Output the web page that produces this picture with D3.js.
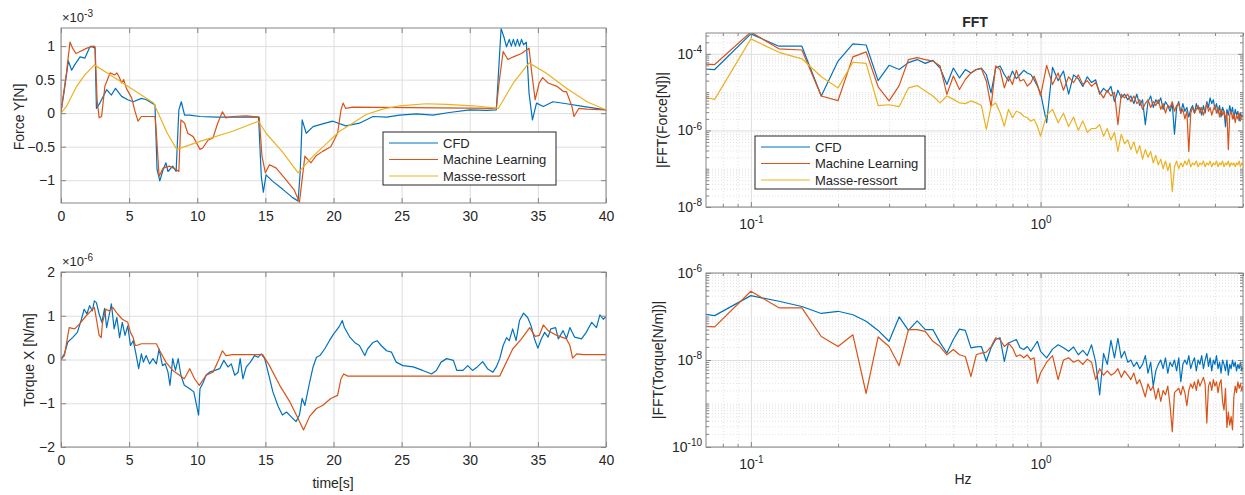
<!DOCTYPE html>
<html lang="fr">
<head>
<meta charset="UTF-8">
<title>Force / Torque - CFD vs ML vs Masse-ressort</title>
<script src="https://cdn.jsdelivr.net/npm/d3@7"></script>
<style>
  body { margin: 0; background: #fff; }
  svg text { font-family: "Liberation Sans", Arial, sans-serif; fill: #262626; }
</style>
</head>
<body>
<script>
// ---- data ----
const seriesNames = ["CFD", "Machine Learning", "Masse-ressort"];
const seriesColors = ["#0072BD", "#D95319", "#EDB120"];

const timeTicks = [0, 5, 10, 15, 20, 25, 30, 35, 40];
const forceTicks = [-1, -0.5, 0, 0.5, 1];
const torqueTicks = [-2, -1, 0, 1, 2];
const hzTicks = [0.1, 1];
const fftForceTicks = [1e-8, 1e-6, 1e-4];
const fftTorqueTicks = [1e-10, 1e-8, 1e-6];

// Force Y, x1e-3 N : [t, value]
const forceCfd = [[0,0.02],[0.25,0.35],[0.54,0.78],[0.78,0.64],[1.0,0.72],[1.4,0.84],[1.75,0.82],[2.1,0.98],[2.2,1.0],[2.5,0.97],[2.6,0.07],[2.85,0.15],[3.35,0.35],[3.7,0.27],[4.0,0.37],[4.45,0.25],[4.9,0.2],[5.3,0.17],[5.9,0.22],[6.27,0.2],[6.9,0.12],[7.05,-0.84],[7.25,-1.01],[7.5,-0.84],[7.7,-0.74],[7.85,-0.87],[8.2,-0.79],[8.45,-0.87],[8.65,0.05],[8.83,0.17],[9.07,-0.03],[9.45,-0.03],[10.2,-0.05],[11.4,-0.06],[12.6,-0.06],[14.5,-0.06],[14.7,-0.94],[14.85,-1.18],[15.05,-0.92],[15.5,-1.01],[16.3,-1.14],[17.0,-1.26],[17.4,-1.31],[17.55,-0.9],[17.7,-0.1],[18.0,-0.3],[18.5,-0.2],[19.2,-0.16],[19.95,-0.12],[20.9,-0.19],[21.9,-0.15],[22.9,-0.05],[23.9,-0.06],[24.85,-0.03],[26.1,-0.01],[27.3,-0.03],[28.5,0.01],[30.0,0.05],[31.2,0.04],[31.95,0.05],[32.3,1.26],[32.5,1.14],[32.7,0.99],[32.9,1.1],[33.05,1.0],[33.2,1.1],[33.35,1.0],[33.5,1.1],[33.65,1.0],[33.8,1.1],[33.95,1.02],[34.15,1.06],[34.35,0.3],[34.6,-0.1],[34.9,0.15],[35.4,0.1],[36.1,0.17],[37.1,0.14],[38.3,0.1],[40,0.05]];
const forceMl = [[0,0.02],[0.4,0.6],[0.66,1.06],[0.85,0.97],[1.1,0.89],[1.4,0.92],[1.9,0.97],[2.4,1.0],[2.5,0.99],[2.65,0.2],[2.8,-0.07],[2.98,-0.05],[3.22,0.4],[3.6,0.6],[3.95,0.57],[4.1,0.6],[4.27,0.54],[4.45,0.45],[4.6,0.5],[4.8,0.37],[5.2,0.22],[5.4,0.05],[5.65,-0.12],[5.9,-0.05],[6.27,-0.05],[6.9,-0.05],[7.0,-0.3],[7.2,-0.94],[7.5,-0.82],[7.95,-0.79],[8.45,-0.84],[8.65,-0.87],[8.8,-0.1],[9.07,-0.15],[9.3,-0.3],[9.7,-0.35],[10.2,-0.54],[10.4,-0.52],[10.8,-0.4],[11.15,-0.37],[11.5,-0.15],[11.85,0.02],[12.1,-0.07],[12.6,-0.05],[13.6,-0.04],[14.55,-0.06],[14.75,-0.64],[15.0,-0.89],[15.3,-0.77],[15.8,-0.82],[16.5,-0.99],[17.1,-1.14],[17.5,-1.33],[17.9,-0.64],[18.1,-0.69],[18.35,-0.74],[18.7,-0.64],[19.2,-0.57],[19.8,-0.5],[20.3,-0.3],[20.55,0.05],[20.7,0.15],[20.9,0.07],[21.4,0.09],[31.95,0.07],[32.15,0.45],[32.45,0.92],[32.8,0.8],[33.2,0.84],[33.8,0.89],[34.35,0.97],[34.55,0.6],[34.8,0.2],[35.1,0.45],[35.35,0.53],[35.75,0.45],[36.4,0.4],[36.9,0.32],[37.1,0.32],[37.5,0.1],[37.65,-0.05],[38.0,0.07],[38.6,0.06],[40,0.05]];
const forceMasse = [[0,0],[0.4,0.1],[1.15,0.4],[1.75,0.57],[2.45,0.72],[3.85,0.54],[5.3,0.35],[6.8,0.15],[7.8,-0.3],[8.5,-0.54],[10.2,-0.42],[12.6,-0.27],[14.5,-0.12],[15.05,-0.3],[16.3,-0.59],[17.4,-0.89],[18.5,-0.64],[19.5,-0.45],[20.45,-0.27],[21.4,-0.15],[22.4,-0.02],[23.6,0.06],[24.85,0.11],[26.8,0.14],[28.3,0.13],[30.25,0.11],[32.1,0.07],[33.2,0.45],[34.35,0.75],[35.6,0.6],[37.1,0.37],[38.6,0.17],[40,0.05]];

// Torque X, x1e-6 N/m : [t, value]
const torqueCfd = [[0,0],[0.25,0.13],[0.5,0.4],[0.85,0.5],[1.2,0.62],[1.5,0.92],[1.7,1.15],[1.9,1.04],[2.1,1.23],[2.3,1.11],[2.45,1.34],[2.6,1.3],[2.8,1.04],[3.0,0.85],[3.2,1.17],[3.35,0.73],[3.55,1.04],[3.7,1.27],[3.9,0.7],[4.1,0.96],[4.3,0.5],[4.5,0.85],[4.7,0.55],[4.9,0.77],[5.1,0.32],[5.3,0.43],[5.5,0.13],[5.7,-0.21],[5.9,0.13],[6.05,-0.06],[6.25,0.09],[6.5,-0.1],[6.75,0.02],[7.0,-0.1],[7.2,0.24],[7.45,-0.14],[7.65,-0.1],[7.85,-0.29],[8.0,-0.59],[8.2,0.02],[8.4,-0.25],[8.6,0.02],[8.8,-0.36],[9.05,-0.59],[9.45,-0.67],[9.75,-0.74],[9.95,-1.05],[10.1,-1.27],[10.2,-0.67],[10.4,-0.55],[10.65,-0.36],[10.9,-0.29],[11.3,-0.25],[11.65,-0.21],[11.95,-0.02],[12.25,-0.17],[12.5,-0.1],[12.75,-0.36],[13.0,-0.29],[13.15,0.02],[13.35,-0.44],[13.6,-0.17],[13.9,-0.06],[14.2,0.09],[14.45,0.05],[14.7,0.13],[14.95,0.02],[15.2,-0.29],[15.55,-0.74],[15.95,-1.08],[16.25,-1.27],[16.55,-1.2],[16.9,-1.31],[17.25,-1.42],[17.5,-1.27],[17.7,-0.89],[17.9,-1.05],[18.25,-0.52],[18.5,-0.17],[18.75,0.05],[19.0,0.09],[19.35,0.24],[19.7,0.43],[20.0,0.58],[20.2,0.66],[20.45,0.77],[20.65,0.89],[20.8,0.73],[21.2,0.51],[21.55,0.39],[21.9,0.32],[22.3,0.09],[22.5,0.24],[22.9,0.39],[23.2,0.43],[23.5,0.32],[23.9,0.2],[24.25,0.17],[24.6,-0.06],[25.1,-0.14],[25.85,-0.17],[26.55,-0.25],[27.2,-0.33],[27.55,-0.25],[27.9,-0.06],[28.3,0.02],[28.8,-0.02],[29.05,-0.25],[29.5,-0.25],[29.85,-0.14],[30.2,-0.25],[30.55,-0.17],[30.95,-0.05],[31.3,-0.21],[31.7,-0.29],[31.95,-0.17],[32.2,0.02],[32.45,0.32],[32.7,0.5],[32.9,0.43],[33.15,0.7],[33.4,0.43],[33.65,0.89],[33.95,1.06],[34.25,0.96],[34.5,0.77],[34.75,0.47],[35.0,0.26],[35.25,0.47],[35.5,0.62],[35.75,0.51],[35.95,0.7],[36.3,0.73],[36.5,0.47],[36.85,0.66],[37.1,0.48],[37.35,0.73],[37.7,0.51],[38.2,0.47],[38.55,0.62],[38.95,0.85],[39.3,0.73],[39.55,1.02],[39.8,0.92],[40,0.98]];
const torqueMl = [[0,0],[0.25,0.09],[0.6,0.73],[1.0,0.7],[1.35,0.81],[1.85,1.0],[2.2,1.11],[2.45,1.19],[2.6,0.92],[2.8,0.55],[2.95,0.5],[3.05,0.85],[3.3,1.15],[3.55,1.11],[3.8,1.19],[4.15,1.04],[4.5,0.92],[4.9,0.85],[5.1,0.62],[5.3,0.5],[5.45,0.32],[5.65,0.33],[5.9,0.36],[7.0,0.36],[7.25,0.2],[7.7,-0.06],[8.2,-0.25],[8.7,-0.36],[9.05,-0.44],[9.45,-0.21],[9.8,-0.44],[10.15,-0.59],[10.65,-0.36],[11.15,-0.29],[11.5,-0.06],[11.85,0.2],[12.1,0.09],[12.6,0.11],[14.8,0.11],[15.3,-0.14],[16.05,-0.59],[16.8,-0.97],[17.4,-1.35],[17.8,-1.61],[18.25,-1.3],[18.75,-1.12],[19.2,-1.05],[19.8,-0.89],[20.3,-0.82],[20.55,-0.44],[20.75,-0.33],[21.05,-0.38],[32.2,-0.38],[33.15,0.24],[33.8,0.47],[34.4,0.73],[34.8,0.53],[35.1,0.55],[35.4,0.79],[35.75,0.66],[36.4,0.55],[37.1,0.47],[37.35,0.32],[37.55,0.03],[37.85,0.13],[38.35,0.11],[40,0.11]];

// FFT magnitudes as log10 values.
// low band: bins 0.05 .. 1.0 Hz every 0.025 Hz ; high band: 1.05 .. 5.0 Hz every 0.05 Hz
const fftForceCfdLow = [-4.35,-4.41,-3.48,-3.80,-3.80,-5.10,-4.19,-3.74,-3.77,-4.70,-4.30,-4.41,-4.23,-4.15,-4.25,-4.17,-4.37,
  -4.80,-4.37,-4.63,-4.41,-4.50,-4.41,-4.37,-4.54,-5.02,-4.37,-4.32,-4.54,-4.71,-4.45,-4.65,-4.54,-4.43,-4.50,-4.54,-4.67,-4.84,-5.02];
const fftForceMlLow = [-4.20,-4.28,-3.43,-3.87,-3.90,-5.10,-5.22,-4.08,-3.95,-4.86,-5.23,-4.83,-4.15,-4.10,-4.15,-4.19,-4.32,
  -5.06,-4.58,-4.93,-4.67,-4.50,-4.41,-4.39,-4.71,-5.38,-4.32,-4.41,-4.89,-4.58,-4.80,-4.43,-4.71,-4.67,-4.84,-4.76,-4.58,-4.80,-5.10];
const fftForceMasseLow = [-4.90,-5.19,-3.61,-3.96,-4.13,-4.60,-4.89,-4.22,-4.25,-5.35,-5.33,-5.38,-4.89,-4.83,-4.97,-5.10,-5.28,
  -5.10,-5.19,-5.28,-5.30,-5.23,-5.28,-5.35,-5.97,-5.37,-5.28,-5.54,-5.89,-5.45,-5.67,-5.50,-5.54,-5.63,-5.67,-5.76,-5.71,-5.89,-6.15];
const fftForceCfdHigh = [
  -5.80,-4.35,-4.70,-4.45,-5.05,-4.55,-4.65,-4.85,-4.60,-4.75,
  -4.68,-5.05,-4.90,-5.00,-4.85,-5.25,-4.95,-5.15,-5.05,-5.20,
  -5.10,-5.30,-5.05,-5.35,-5.20,-5.85,-5.25,-5.10,-5.40,-5.20,
  -5.30,-5.15,-5.45,-5.25,-5.35,-5.50,-5.30,-6.10,-5.40,-5.25,
  -5.55,-5.30,-5.50,-5.40,-5.65,-5.45,-5.35,-5.55,-5.30,-5.45,
  -5.40,-5.60,-5.35,-5.55,-5.25,-5.40,-5.15,-5.30,-5.20,-5.45,
  -5.30,-5.55,-5.35,-5.65,-5.40,-5.50,-5.90,-5.45,-5.60,-5.35,
  -5.55,-5.40,-5.70,-5.45,-5.60,-5.50,-5.75,-5.55,-5.65,-5.60];
const fftForceMlHigh = [
  -4.30,-4.80,-4.50,-4.95,-4.60,-4.75,-4.55,-4.80,-4.70,-4.85,
  -4.75,-5.00,-5.15,-4.95,-5.10,-5.00,-5.85,-5.05,-5.15,-5.05,
  -5.25,-5.10,-5.30,-5.20,-5.45,-5.30,-5.20,-5.40,-5.25,-5.35,
  -5.20,-5.45,-5.30,-5.55,-5.35,-5.40,-5.25,-5.50,-5.35,-5.30,
  -5.55,-5.45,-5.70,-5.50,-6.55,-5.55,-5.40,-5.55,-5.45,-5.35,
  -5.55,-5.40,-5.60,-5.45,-5.30,-5.50,-5.40,-5.60,-5.45,-5.35,
  -5.55,-5.40,-5.65,-5.45,-5.60,-5.50,-5.70,-5.55,-6.50,-5.60,
  -5.50,-5.70,-5.55,-5.80,-5.60,-5.70,-5.55,-5.75,-5.60,-5.65];
const fftForceMasseHigh = [
  -5.60,-5.45,-5.80,-5.55,-5.90,-5.65,-6.00,-5.75,-6.05,-5.95,
  -5.95,-5.85,-6.15,-5.95,-6.25,-6.05,-6.55,-6.10,-6.35,-6.25,
  -6.50,-6.30,-6.60,-6.40,-6.75,-6.50,-6.70,-6.55,-6.85,-6.65,
  -6.90,-6.75,-7.00,-6.80,-7.05,-6.85,-7.60,-6.95,-6.80,-7.00,
  -6.85,-6.95,-6.80,-6.90,-6.75,-6.95,-6.85,-6.90,-6.80,-6.95,
  -6.85,-6.90,-6.80,-6.95,-6.85,-6.90,-6.80,-6.95,-6.85,-6.90,
  -6.80,-6.95,-6.85,-6.90,-6.80,-6.95,-6.85,-6.90,-6.80,-6.95,
  -6.85,-6.90,-6.85,-6.95,-6.85,-6.90,-6.80,-6.95,-6.85,-6.90];

const fftTorqueCfdLow = [-6.80,-6.98,-6.52,-6.65,-6.77,-6.93,-6.88,-6.96,-7.11,-7.32,-7.57,-7.01,-7.32,-7.10,-7.30,-7.30,-7.60,
  -7.84,-7.53,-7.29,-7.32,-7.72,-7.70,-7.69,-8.03,-7.72,-7.53,-7.49,-8.03,-7.61,-7.57,-7.53,-7.72,-7.76,-7.69,-7.80,-7.69,-7.57,-7.80];
const fftTorqueMlLow = [-7.15,-7.24,-6.42,-6.80,-6.80,-7.46,-7.69,-7.42,-8.77,-7.47,-7.69,-8.13,-7.30,-7.30,-7.34,-7.57,-7.69,
  -7.88,-7.76,-7.88,-7.92,-8.38,-7.88,-7.84,-7.82,-7.69,-7.49,-7.53,-7.69,-7.61,-7.72,-7.92,-7.88,-7.95,-7.88,-7.99,-7.95,-8.53,-8.30];
const fftTorqueCfdHigh = [
  -7.95,-7.75,-7.65,-7.72,-7.80,-7.70,-7.88,-7.78,-7.90,-7.65,
  -8.05,-8.80,-7.85,-8.10,-7.55,-7.95,-7.50,-7.95,-7.80,-8.05,
  -8.00,-8.15,-8.05,-8.20,-8.10,-7.90,-8.30,-8.05,-8.60,-8.25,
  -8.10,-8.00,-8.20,-7.95,-8.30,-8.05,-8.15,-8.00,-8.25,-7.95,
  -8.50,-8.10,-8.00,-8.10,-7.90,-8.20,-8.05,-7.95,-8.25,-8.00,
  -8.10,-7.90,-8.20,-8.00,-7.85,-8.15,-7.95,-8.25,-8.00,-8.10,
  -7.90,-8.20,-8.05,-8.30,-8.00,-8.10,-8.25,-8.00,-8.35,-8.10,
  -8.20,-8.00,-8.15,-8.05,-8.25,-8.10,-8.20,-8.05,-8.25,-8.15];
const fftTorqueMlHigh = [
  -8.05,-7.90,-8.45,-8.00,-7.95,-8.05,-8.00,-8.10,-7.98,-8.05,
  -8.45,-8.20,-8.35,-8.25,-8.35,-8.30,-8.20,-8.40,-8.25,-8.35,
  -8.45,-8.30,-8.55,-8.45,-8.65,-8.85,-8.55,-8.70,-8.60,-8.90,
  -8.65,-8.95,-8.70,-8.80,-8.60,-9.05,-9.65,-8.75,-8.70,-8.65,
  -8.80,-8.60,-8.75,-9.05,-8.70,-8.55,-8.65,-8.50,-8.70,-8.45,
  -8.60,-8.50,-8.40,-8.55,-9.45,-8.60,-8.50,-8.70,-8.45,-8.60,
  -8.50,-8.75,-8.55,-8.45,-8.95,-9.15,-8.65,-9.55,-9.20,-9.50,
  -9.30,-9.60,-8.85,-8.60,-8.75,-8.50,-8.65,-8.55,-8.70,-8.60];

// attach bin frequencies to the log10 magnitudes
function spectrum(low, high) {
  const pts = low.map((v, i) => [0.05 + 0.025 * i, Math.pow(10, v)]);
  return pts.concat(high.map((v, i) => [1.05 + 0.05 * i, Math.pow(10, v)]));
}

// ---- drawing ----
const svg = d3.select("body").append("svg").attr("width", 1245).attr("height", 495);
const defs = svg.append("defs");

const boxes = {
  force:     {l: 61,  r: 606,  t: 28,  b: 203},
  torque:    {l: 61,  r: 606,  t: 272, b: 447},
  fftForce:  {l: 706, r: 1243, t: 33,  b: 207},
  fftTorque: {l: 706, r: 1243, t: 273, b: 447}
};

function superscript(sel) {
  sel.each(function(d) {
    const t = d3.select(this);
    const e = Math.round(Math.log10(d));
    t.text(null);
    t.append("tspan").text("10");
    t.append("tspan").attr("dy", "-0.55em").attr("font-size", "10px").text(e < 0 ? "-" + (-e) : e);
  });
}

function panel(id, box, x, y, o) {
  const w = box.r - box.l, h = box.b - box.t;
  const g = svg.append("g");
  defs.append("clipPath").attr("id", "clip-" + id)
    .append("rect").attr("x", box.l).attr("y", box.t).attr("width", w).attr("height", h);

  g.append("rect").attr("x", box.l).attr("y", box.t).attr("width", w).attr("height", h).attr("fill", "#fff");

  // grid
  const grid = g.append("g");
  function gridX(vals, dotted) {
    grid.append("g").attr("transform", `translate(0,${box.b})`)
      .call(d3.axisBottom(x).tickValues(vals).tickSize(-h).tickFormat(""))
      .call(s => s.select(".domain").remove())
      .call(s => s.selectAll("line").attr("stroke", dotted ? "#e2e2e2" : "#dedede")
        .attr("stroke-dasharray", dotted ? "1,2" : null));
  }
  function gridY(vals, dotted) {
    grid.append("g").attr("transform", `translate(${box.l},0)`)
      .call(d3.axisLeft(y).tickValues(vals).tickSize(-w).tickFormat(""))
      .call(s => s.select(".domain").remove())
      .call(s => s.selectAll("line").attr("stroke", dotted ? "#e2e2e2" : "#dedede")
        .attr("stroke-dasharray", dotted ? "1,2" : null));
  }
  if (o.xMinor) gridX(o.xMinor, true);
  if (o.yMinor) gridY(o.yMinor, true);
  gridX(o.xTicks, false);
  gridY(o.yTicks, false);

  // series
  const line = d3.line().x(d => x(d[0])).y(d => y(d[1]));
  o.series.forEach((s, i) => {
    g.append("path").datum(s)
      .attr("clip-path", `url(#clip-${id})`)
      .attr("fill", "none")
      .attr("stroke", seriesColors[i])
      .attr("stroke-width", 1.2)
      .attr("stroke-linejoin", "round")
      .attr("d", line);
  });

  // box + ticks
  g.append("rect").attr("x", box.l).attr("y", box.t).attr("width", w).attr("height", h)
    .attr("fill", "none").attr("stroke", "#858585").attr("stroke-width", 1);

  const tickStyle = s => {
    s.select(".domain").remove();
    s.selectAll("line").attr("stroke", "#858585");
    s.selectAll("text").attr("font-size", "14px").attr("fill", "#262626");
  };
  const bx = g.append("g").attr("transform", `translate(0,${box.b})`)
    .call(d3.axisBottom(x).tickValues(o.xTicks).tickSize(-5).tickPadding(o.log ? 12 : 8).tickFormat(o.log ? null : d3.format("")))
    .call(tickStyle);
  const ly = g.append("g").attr("transform", `translate(${box.l},0)`)
    .call(d3.axisLeft(y).tickValues(o.yTicks).tickSize(-5).tickPadding(o.log ? 4 : 6).tickFormat(o.log ? null : d3.format("")))
    .call(tickStyle);
  if (o.log) {
    bx.selectAll("text").call(superscript);
    ly.selectAll("text").call(superscript);
  }
  g.append("g").attr("transform", `translate(0,${box.t})`)
    .call(d3.axisTop(x).tickValues(o.xTicks).tickSize(-5).tickFormat("")).call(tickStyle);
  g.append("g").attr("transform", `translate(${box.r},0)`)
    .call(d3.axisRight(y).tickValues(o.yTicks).tickSize(-5).tickFormat("")).call(tickStyle);
  if (o.xMinor) {
    [[box.b, d3.axisBottom], [box.t, d3.axisTop]].forEach(([py, ax]) =>
      g.append("g").attr("transform", `translate(0,${py})`)
        .call(ax(x).tickValues(o.xMinor).tickSize(-3).tickFormat("")).call(tickStyle));
  }
  if (o.yMinor) {
    [[box.l, d3.axisLeft], [box.r, d3.axisRight]].forEach(([px, ax]) =>
      g.append("g").attr("transform", `translate(${px},0)`)
        .call(ax(y).tickValues(o.yMinor).tickSize(-3).tickFormat("")).call(tickStyle));
  }

  // axis labels
  g.append("text")
    .attr("transform", `translate(${o.ylabelX},${o.ylabelY}) rotate(-90)`)
    .attr("text-anchor", "middle").attr("font-size", "14px").text(o.ylabel);
  if (o.xlabel) {
    g.append("text").attr("x", o.xlabelX).attr("y", o.xlabelY)
      .attr("text-anchor", "middle").attr("font-size", "14px").text(o.xlabel);
  }
  if (o.exponent) {
    const t = g.append("text").attr("x", box.l + 1).attr("y", box.t - 6).attr("font-size", "13px");
    t.append("tspan").text("\u00d710");
    t.append("tspan").attr("dy", "-0.5em").attr("font-size", "10px").text(o.exponent);
  }
  if (o.legend) {
    const L = o.legend;
    const lg = g.append("g");
    lg.append("rect").attr("x", L.x).attr("y", L.y).attr("width", L.w).attr("height", L.h)
      .attr("fill", "#fff").attr("stroke", "#262626").attr("stroke-width", 1);
    seriesNames.forEach((name, i) => {
      const yy = L.y + 11 + i * 16.5;
      lg.append("line").attr("x1", L.x + 6).attr("x2", L.x + 55).attr("y1", yy).attr("y2", yy)
        .attr("stroke", seriesColors[i]).attr("stroke-width", 1.2);
      lg.append("text").attr("x", L.x + 60).attr("y", yy + 4.5).attr("font-size", "13px").text(name);
    });
  }
}

const xTime = d3.scaleLinear().domain([0, 40]).range([boxes.force.l, boxes.force.r]);
const yForce = d3.scaleLinear().domain([-1.34, 1.27]).range([boxes.force.b, boxes.force.t]);
const yTorque = d3.scaleLinear().domain([-2, 2]).range([boxes.torque.b, boxes.torque.t]);
const xHz = d3.scaleLog().domain([0.07, 5]).range([boxes.fftForce.l, boxes.fftForce.r]);
const yFftForce = d3.scaleLog().domain([1e-8, 3.5e-4]).range([boxes.fftForce.b, boxes.fftForce.t]);
const yFftTorque = d3.scaleLog().domain([1e-10, 1e-6]).range([boxes.fftTorque.b, boxes.fftTorque.t]);

const hzMinor = xHz.ticks().filter(v => !hzTicks.some(t => Math.abs(t - v) < 1e-9) && v > 0.0701);
const minorOf = (sc, major) => sc.ticks().filter(v => !major.some(t => Math.abs(t / v - 1) < 1e-6));

panel("force", boxes.force, xTime, yForce, {
  xTicks: timeTicks, yTicks: forceTicks,
  series: [forceCfd, forceMl, forceMasse],
  ylabel: "Force Y[N]", ylabelX: 24, ylabelY: 117,
  exponent: "-3",
  legend: {x: 383, y: 132, w: 173, h: 53}
});
panel("torque", boxes.torque, xTime, yTorque, {
  xTicks: timeTicks, yTicks: torqueTicks,
  series: [torqueCfd, torqueMl],
  ylabel: "Torque X [N/m]", ylabelX: 34, ylabelY: 360,
  xlabel: "time[s]", xlabelX: 333, xlabelY: 488,
  exponent: "-6"
});
panel("fftForce", boxes.fftForce, xHz, yFftForce, {
  log: true, xTicks: hzTicks, yTicks: fftForceTicks,
  xMinor: hzMinor, yMinor: minorOf(yFftForce, fftForceTicks),
  series: [spectrum(fftForceCfdLow, fftForceCfdHigh), spectrum(fftForceMlLow, fftForceMlHigh), spectrum(fftForceMasseLow, fftForceMasseHigh)],
  ylabel: "|FFT(Force[N])|", ylabelX: 667, ylabelY: 120,
  legend: {x: 755, y: 136, w: 170, h: 53}
});
panel("fftTorque", boxes.fftTorque, xHz, yFftTorque, {
  log: true, xTicks: hzTicks, yTicks: fftTorqueTicks,
  xMinor: hzMinor, yMinor: minorOf(yFftTorque, fftTorqueTicks),
  series: [spectrum(fftTorqueCfdLow, fftTorqueCfdHigh), spectrum(fftTorqueMlLow, fftTorqueMlHigh)],
  ylabel: "|FFT(Torque[N/m])|", ylabelX: 663, ylabelY: 360,
  xlabel: "Hz", xlabelX: 963, xlabelY: 484
});

svg.append("text").attr("x", 975).attr("y", 27).attr("text-anchor", "middle")
  .attr("font-size", "14px").attr("font-weight", "bold").text("FFT");
</script>
</body>
</html>
